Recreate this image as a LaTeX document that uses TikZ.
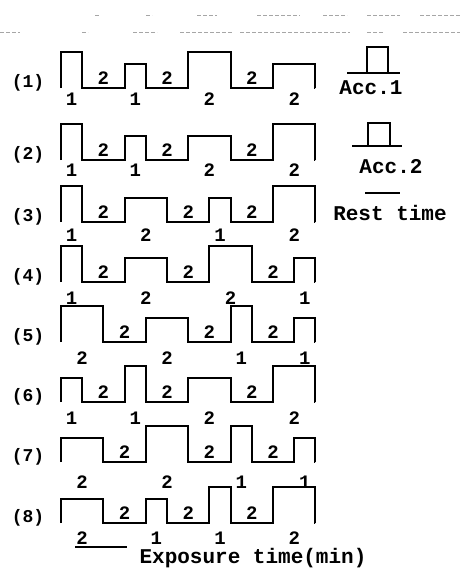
\documentclass[tikz,border=0pt]{standalone}
\usepackage{fontspec}
\setmonofont{Liberation Mono}
\usepackage{tikz}

% one row of the exposure schedule: number, baseline, label drop, start/width/height
\newcommand{\pulserow}[4]{%
  \node[rowlab] (row#1) at (28,#2-5) {(#1)};
  \draw[wave] (61,#2) \foreach \s/\w/\h in {#4}{ -- ({61+\s*21.2},#2) -- ++(0,-\h) -- ++({\w*21.2},0) -- ++(0,\h)} -- (315.4,#2);
  \foreach \s/\w/\h [count=\k] in {#4}{
    \node[num] (exp#1-\k) at ({61+(\s+\w/2)*21.2},#2+#3) {\w};
    \ifnum\k>1 \node[num] (rest#1-\k) at ({61+(\s-1)*21.2},#2-10) {2};\fi
  }%
}

\begin{document}
\begin{tikzpicture}[x=1pt,y=-1pt,
    wave/.style={line width=2.1pt, line join=miter},
    num/.style={font=\ttfamily\bfseries\fontsize{19}{19}\selectfont, inner sep=0pt},
    rowlab/.style={font=\ttfamily\bfseries\fontsize{18}{18}\selectfont, inner sep=0pt},
    legend/.style={font=\ttfamily\bfseries\fontsize{21}{21}\selectfont, inner sep=0pt},
    scan/.style={line width=1pt, gray!70, dash pattern=on 4pt off 2pt}
]
\useasboundingbox (0,0) rectangle (463,579);

% faint lines left over from the page above
\foreach \a/\b in {95/100,146/152,197/217,257/300,323/347,367/400,420/460}{\draw[scan] (\a,15) -- (\b,15);}
\foreach \a/\b in {0/20,82/88,133/157,180/233,240/350,367/383,403/460}{\draw[scan] (\a,32) -- (\b,32);}

\pulserow{1}{88}{11}{0/1/36,3/1/24,6/2/36,10/2/24}
\pulserow{2}{160}{10}{0/1/36,3/1/24,6/2/24,10/2/36}
\pulserow{3}{222}{13}{0/1/36,3/2/24,7/1/24,10/2/36}
\pulserow{4}{282}{16}{0/1/36,3/2/24,7/2/36,11/1/24}
\pulserow{5}{342}{16}{0/2/36,4/2/24,8/1/36,11/1/24}
\pulserow{6}{402}{16}{0/1/24,3/1/36,6/2/24,10/2/36}
\pulserow{7}{462}{20}{0/2/24,4/2/36,8/1/36,11/1/24}
\pulserow{8}{523}{15}{0/2/24,4/1/24,7/1/36,10/2/36}
\draw[line width=1.2pt] (75,547) -- (127,547);

% legend
\draw[wave] (347,73) -- (400,73);
\draw[wave] (367,73) -- (367,47) -- (388,47) -- (388,73);
\node[legend] (acc1) at (371,88) {Acc.1};
\draw[wave] (352,146) -- (402,146);
\draw[wave] (368,146) -- (368,123) -- (390,123) -- (390,146);
\node[legend] (acc2) at (391,167) {Acc.2};
\draw[line width=1.4pt] (365,193) -- (400,193);
\node[legend] (restlab) at (390,213) {Rest time};
\node[legend] (expolab) at (253,558) {Exposure time(min)};
\end{tikzpicture}
\end{document}
